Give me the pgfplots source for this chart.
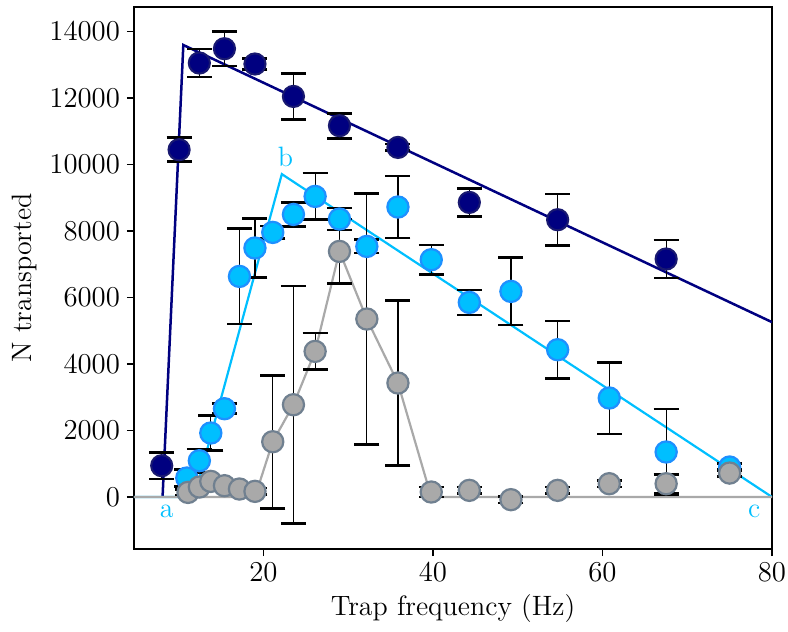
\documentclass[border=0pt]{standalone}
\usepackage{pgfplots}
\pgfplotsset{compat=1.18}
\usepackage{pgfplotstable}

\definecolor{navyc}{HTML}{000080}
\definecolor{navyedge}{HTML}{191970}
\definecolor{skyc}{HTML}{00BFFF}
\definecolor{skyedge}{HTML}{1E90FF}
\definecolor{grayc}{HTML}{A9A9A9}
\definecolor{grayedge}{HTML}{708090}

% trap frequency (Hz), atoms transported, uncertainty
\pgfplotstableread{
x      y      e
8.0    941    400
10.05  10447  360
12.44  13055  425
15.4   13485  525
19.0   13025  160
23.54  12050  690
28.97  11169  376
35.87  10516  100
44.29  8862   420
54.71  8341   773
67.51  7159   572
}\navydata

\pgfplotstableread{
x      y      e
10.96  571    250
12.44  1092   350
13.79  1925   520
15.4   2656   150
17.17  6636   1435
19.0   7490   880
21.1   7960   190
23.54  8500   360
26.1   9042   700
28.97  8362   335
32.2   7538   200
35.87  8723   935
39.8   7138   440
44.29  5854   376
49.2   6185   1013
54.71  4431   867
60.8   2978   1077
67.51  1354   1290
75.0   902    100
}\skydata

\pgfplotstableread{
x      y      e
11.1   138    80
12.44  300    80
13.79  470    80
15.4   340    80
17.17  240    80
19.0   170    100
21.1   1663   2000
23.54  2776   3570
26.1   4380   550
28.97  7388   970
32.2   5354   3770
35.87  3429   2476
39.8   150    150
44.29  200    100
49.2   -80    100
54.71  200    100
60.8   400    100
67.51  400    275
75.0   720    100
}\graydata

\begin{document}
\begin{tikzpicture}
\begin{axis}[
  name=ax,
  scale only axis,
  width=319pt, height=271pt,
  xmin=4.73, xmax=80,
  ymin=-1564, ymax=14740,
  xtick={20,40,60,80},
  ytick={0,2000,...,14000},
  tick align=outside,
  tick pos=left,
  major tick length=3.5pt,
  axis line style={line width=0.8pt},
  tick style={line width=0.7pt, black},
  scaled y ticks=false,
  yticklabel style={/pgf/number format/set thousands separator={}, /pgf/number format/fixed},
  ticklabel style={font=\fontsize{13.5}{16}\selectfont},
  label style={font=\fontsize{14}{17}\selectfont},
  xlabel={Trap frequency (Hz)},
  ylabel={N transported},
  xlabel style={at={(axis description cs:0.5,-0.1089)}, anchor=center},
  ylabel style={at={(axis description cs:-0.171,0.5)}, anchor=center},
  error bars/error bar style={line width=0.6pt, black},
  error bars/error mark options={rotate=90, line width=1.3pt, mark size=6.25pt, black},
]

% model curves
\addplot[navyc, line width=1.25pt] coordinates {(8.1,0) (10.55,13597) (80,5260)};
\addplot[skyc, line width=1.1pt] coordinates {(4.73,0) (11.84,0) (22.17,9713) (80,0)};
\addplot[grayc, line width=1.1pt] coordinates {
  (4.73,0) (19.0,0) (21.1,1663) (23.54,2776) (26.1,4380) (28.97,7388)
  (32.2,5354) (35.87,3429) (39.8,0) (80,0)};

% measurements
\addplot[only marks, mark=*, mark size=5.3pt,
  mark options={fill=navyc, draw=navyedge, line width=1pt},
  error bars/.cd, y dir=both, y explicit]
  table[x=x, y=y, y error=e] {\navydata};
\addplot[only marks, mark=*, mark size=5.3pt,
  mark options={fill=skyc, draw=skyedge, line width=1.1pt},
  error bars/.cd, y dir=both, y explicit]
  table[x=x, y=y, y error=e] {\skydata};
\addplot[only marks, mark=*, mark size=5.3pt,
  mark options={fill=grayc, draw=grayedge, line width=1.1pt},
  error bars/.cd, y dir=both, y explicit]
  table[x=x, y=y, y error=e] {\graydata};

\node[skyc, font=\fontsize{14}{17}\selectfont] at (axis cs:8.6,-440) {a};
\node[skyc, font=\fontsize{14}{17}\selectfont] at (axis cs:22.6,10240) {b};
\node[skyc, font=\fontsize{14}{17}\selectfont] at (axis cs:77.9,-433) {c};
\end{axis}
\pgfresetboundingbox
\path ([shift={(-67pt,-41.5pt)}]ax.south west) ([shift={(8pt,3.5pt)}]ax.north east);
\end{tikzpicture}
\end{document}
